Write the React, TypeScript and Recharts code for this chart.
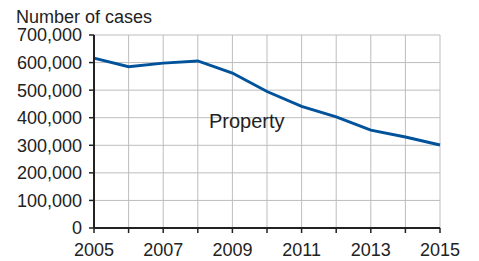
import React from 'react';
import { LineChart, Line, XAxis, YAxis, CartesianGrid, Customized } from 'recharts';

const years = [2005, 2006, 2007, 2008, 2009, 2010, 2011, 2012, 2013, 2014, 2015];
const propertyCases = [616000, 585000, 598000, 606000, 562000, 495000, 441000, 403000, 355000, 330000, 301000];
const yTicks = [0, 100000, 200000, 300000, 400000, 500000, 600000, 700000];
const labeledYears = [2005, 2007, 2009, 2011, 2013, 2015];

const data = years.map((year, i) => ({ year, cases: propertyCases[i] }));

const font = '"Liberation Sans", Arial, sans-serif';

const XTick = (props: any) => {
  const { x, y, payload } = props;
  if (!labeledYears.includes(payload.value)) return <g />;
  return (
    <text x={x} y={y} dy="0.71em" textAnchor="middle" fill="#222" fontSize={18} fontFamily={font}>
      {payload.value}
    </text>
  );
};

const Annotations = () => (
  <g fontFamily={font} fill="#222">
    <text x={16} y={23} fontSize={18}>Number of cases</text>
    <text x={209} y={128} fontSize={20}>Property</text>
  </g>
);

export default function App() {
  return (
    <div style={{ position: 'absolute', left: 0, top: 0, width: 479, height: 261, background: '#fff' }}>
      <LineChart width={479} height={261} data={data} margin={{ top: 35, right: 39, bottom: 0, left: 0 }}>
        <CartesianGrid stroke="#bdbdbd" strokeWidth={1} />
        <XAxis
          dataKey="year"
          type="number"
          domain={[2005, 2015]}
          ticks={years}
          interval={0}
          height={33}
          tick={<XTick />}
          tickSize={5}
          tickMargin={10}
          axisLine={{ stroke: '#222', strokeWidth: 2 }}
          tickLine={{ stroke: '#222', strokeWidth: 1.5 }}
        />
        <YAxis
          domain={[0, 700000]}
          ticks={yTicks}
          interval={0}
          width={94}
          tickFormatter={(v: number) => v.toLocaleString('en-US')}
          tick={{ fill: '#222', fontSize: 18, fontFamily: font }}
          tickSize={5}
          tickMargin={7}
          axisLine={{ stroke: '#222', strokeWidth: 2 }}
          tickLine={{ stroke: '#222', strokeWidth: 1.5 }}
        />
        <Line
          type="linear"
          dataKey="cases"
          stroke="#00539b"
          strokeWidth={3}
          dot={false}
          isAnimationActive={false}
        />
        <Customized component={Annotations} />
      </LineChart>
    </div>
  );
}
